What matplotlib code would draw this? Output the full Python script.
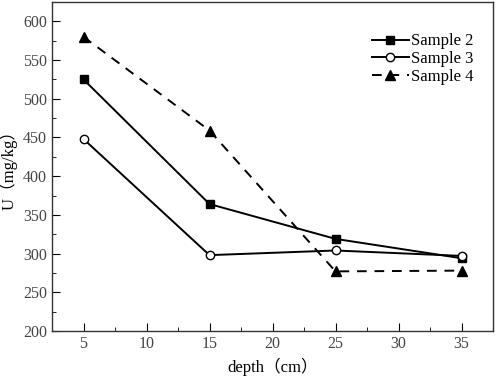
import numpy as np
import matplotlib
matplotlib.use("Agg")
import matplotlib.pyplot as plt
from matplotlib.ticker import MultipleLocator

depth = [5, 15, 25, 35]
sample2 = [525, 364, 319, 294]
sample3 = [448, 298, 304, 297]
sample4 = [580, 459, 277, 278]

plt.rcParams["font.family"] = ["Liberation Serif", "Noto Sans CJK SC"]

fig = plt.figure(figsize=(4.98, 3.77), dpi=100)
ax = fig.add_axes([52 / 498, 46 / 377, 441 / 498, 329 / 377])

ax.plot(depth, sample2, "-", color="black", marker="s", ms=5.5, lw=1.4, label="Sample 2")
ax.plot(depth, sample3, "-", color="black", marker="o", ms=6, mfc="white", lw=1.4, label="Sample 3")
ax.plot(depth, sample4, "--", color="black", marker="^", ms=6.5, lw=1.4, dashes=(5, 4), label="Sample 4")

ax.set_xlim(2.5, 37.5)
ax.set_ylim(200, 625)
ax.xaxis.set_major_locator(MultipleLocator(5))
ax.xaxis.set_minor_locator(MultipleLocator(2.5))
ax.yaxis.set_major_locator(MultipleLocator(50))
ax.yaxis.set_minor_locator(MultipleLocator(25))
ax.set_xticks([5, 10, 15, 20, 25, 30, 35])
ax.tick_params(which="both", direction="in", top=False, right=False, colors="black", labelcolor="#444444", labelsize=11.5)
ax.tick_params(which="major", length=6)
ax.tick_params(which="minor", length=3)
for s in ax.spines.values():
    s.set_linewidth(1.0)
    s.set_color("#333333")

ax.set_xlabel("depth（cm）", fontsize=12)
ax.set_ylabel("U（mg/kg）", fontsize=12)

ax.legend(loc="upper right", frameon=False, fontsize=12, handlelength=2.2,
          handletextpad=0.15, labelspacing=0.1, bbox_to_anchor=(0.99, 0.95))

fig.savefig("out.png", dpi=100)
